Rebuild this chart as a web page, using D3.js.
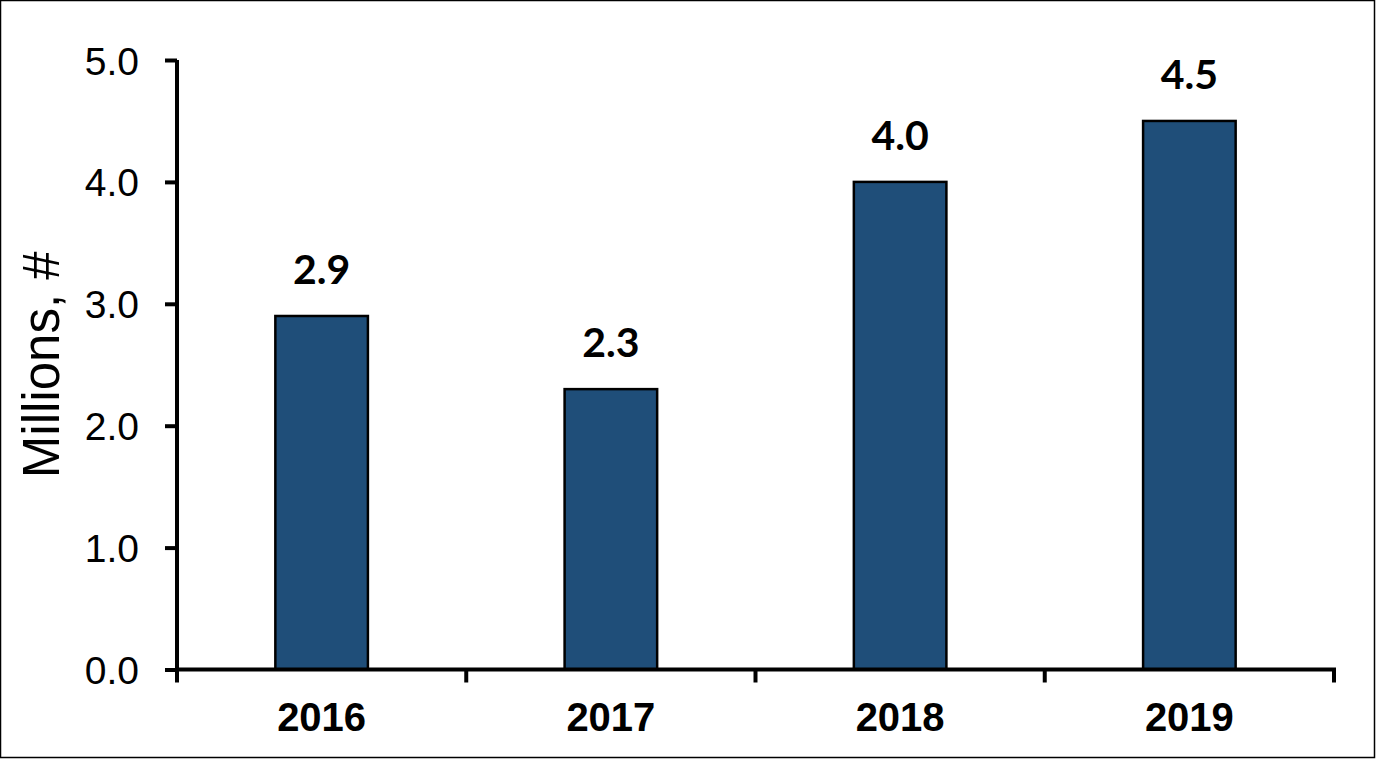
<!DOCTYPE html>
<html><head><meta charset="utf-8">
<script src="https://cdn.jsdelivr.net/npm/d3@7"></script>
<style>body{margin:0;background:#fff}svg{display:block}</style>
</head><body>
<script>
const categories = ["2016", "2017", "2018", "2019"];
const values = [2.9, 2.3, 4.0, 4.5];
const valueLabels = ["2.9", "2.3", "4.0", "4.5"];
const yTicks = [0, 1, 2, 3, 4, 5];
const yTitle = "Millions, #";

const W = 1377, H = 760;
const svg = d3.select("body").append("svg").attr("width", W).attr("height", H);
svg.append("rect").attr("x", 0.5).attr("y", 0.5).attr("width", W - 3).attr("height", H - 3)
  .attr("fill", "#fff").attr("stroke", "#000").attr("stroke-width", 1.5);

const x0 = 177, x1 = 1334, yTop = 60, yBot = 669.5;
const x = d3.scaleBand().domain(categories).range([x0, x1]).paddingInner(0.68).paddingOuter(0.34);
const y = d3.scaleLinear().domain([0, 5]).range([yBot, yTop]);

// bars
svg.selectAll("rect.bar").data(values).enter().append("rect")
  .attr("class", "bar")
  .attr("x", (d, i) => x(categories[i]))
  .attr("width", x.bandwidth())
  .attr("y", d => y(d))
  .attr("height", d => y(0) - y(d))
  .attr("fill", "#1f4e79").attr("stroke", "#000").attr("stroke-width", 2.5);

// value labels
svg.selectAll("text.val").data(values).enter().append("text")
  .attr("class", "val")
  .attr("x", (d, i) => x(categories[i]) + x.bandwidth() / 2)
  .attr("y", d => y(d) - 32)
  .attr("text-anchor", "middle")
  .attr("font-family", "Lato, 'Open Sans', sans-serif").attr("font-weight", "bold")
  .attr("font-size", 41).attr("fill", "#000")
  .text((d, i) => valueLabels[i]);

// y axis
const yAxis = svg.append("g").attr("transform", `translate(${x0},0)`)
  .call(d3.axisLeft(y).tickValues(yTicks).tickFormat(d3.format(".1f")).tickSize(12).tickPadding(26));
yAxis.select(".domain").attr("stroke", "#000").attr("stroke-width", 4)
  .attr("d", `M0,${yTop}V${yBot}`);
yAxis.selectAll(".tick line").attr("stroke", "#000").attr("stroke-width", 4);
yAxis.selectAll(".tick text").attr("font-family", "Arial, 'Liberation Sans', sans-serif")
  .attr("font-size", 39).attr("fill", "#000").attr("dy", "0.36em");

// x axis with tick marks at band boundaries
const xAxisG = svg.append("g");
xAxisG.append("line").attr("x1", x0 - 2).attr("x2", x1 + 2).attr("y1", yBot).attr("y2", yBot)
  .attr("stroke", "#000").attr("stroke-width", 4);
const step = x.step();
const bounds = d3.range(categories.length + 1).map(i => x0 + i * step);
xAxisG.selectAll("line.xt").data(bounds).enter().append("line")
  .attr("class", "xt").attr("x1", d => d).attr("x2", d => d)
  .attr("y1", yBot).attr("y2", yBot + 13).attr("stroke", "#000").attr("stroke-width", 4);
xAxisG.selectAll("text.xl").data(categories).enter().append("text")
  .attr("class", "xl")
  .attr("x", d => x(d) + x.bandwidth() / 2).attr("y", 731)
  .attr("text-anchor", "middle")
  .attr("font-family", "Arial, 'Liberation Sans', sans-serif").attr("font-weight", "bold")
  .attr("font-size", 40).attr("fill", "#000").text(d => d);

// y title
svg.append("text")
  .attr("transform", `translate(59,${(yTop + yBot) / 2}) rotate(-90)`)
  .attr("text-anchor", "middle")
  .attr("font-family", "Arial, 'Liberation Sans', sans-serif")
  .attr("font-size", 51).attr("fill", "#000").text(yTitle);
</script>
</body></html>
